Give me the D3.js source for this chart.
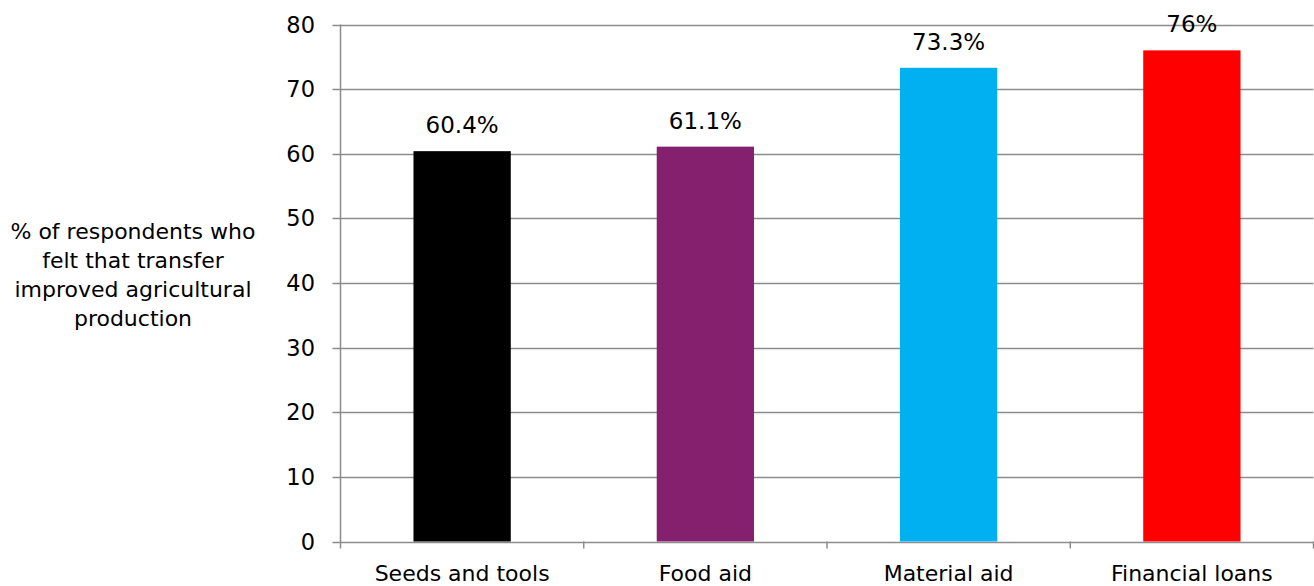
<!DOCTYPE html>
<html><head><meta charset="utf-8">
<script src="https://cdn.jsdelivr.net/npm/d3@7"></script>
<style>body{margin:0;background:#fff}svg{display:block}text{font-family:"DejaVu Sans",Verdana,sans-serif;fill:#000}</style>
</head><body><svg id="c" width="1314" height="586"></svg>
<script>
const categories = ["Seeds and tools","Food aid","Material aid","Financial loans"];
const values = [60.4, 61.1, 73.3, 76];
const valueLabels = ["60.4%","61.1%","73.3%","76%"];
const colors = ["#000000","#85206f","#00b0f0","#ff0000"];
const yTicks = [0,10,20,30,40,50,60,70,80];
const yTitle = ["% of respondents who","felt that transfer","improved agricultural","production"];

const svg = d3.select("#c");
const pL = 340.5, pR = 1313.5, pT = 24.5, pB = 541.5;
const x = d3.scaleBand().domain(categories).range([pL, pR]).paddingInner(0.6).paddingOuter(0.3);
const xb = d3.scaleLinear().domain([0, categories.length]).range([pL, pR]);
const y = d3.scaleLinear().domain([0, 80]).range([pB, pT]);

// gridlines
svg.append("g").selectAll("line").data(yTicks).join("line")
  .attr("x1", pL - 8).attr("x2", pR).attr("y1", d => Math.round(y(d)) + 0.5).attr("y2", d => Math.round(y(d)) + 0.5)
  .attr("stroke", "#8c8c8c").attr("stroke-width", 1.5);
// y axis line
svg.append("line").attr("x1", pL).attr("x2", pL).attr("y1", pT).attr("y2", pB + 7)
  .attr("stroke", "#8c8c8c").attr("stroke-width", 1.5);
// x ticks
svg.append("g").selectAll("line").data(d3.range(1, categories.length + 1)).join("line")
  .attr("x1", d => xb(d)).attr("x2", d => xb(d)).attr("y1", pB).attr("y2", pB + 7)
  .attr("stroke", "#8c8c8c").attr("stroke-width", 1.5);
// y tick labels
svg.append("g").selectAll("text").data(yTicks).join("text")
  .attr("x", 315).attr("y", d => y(d)).attr("dy", "0.36em").attr("text-anchor", "end")
  .attr("font-size", 22.5).text(d => d);
// bars
svg.append("g").selectAll("rect").data(values).join("rect")
  .attr("x", (d, i) => x(categories[i])).attr("width", x.bandwidth())
  .attr("y", d => y(d)).attr("height", d => y(0) - y(d))
  .attr("fill", (d, i) => colors[i]);
// value labels
svg.append("g").selectAll("text").data(values).join("text")
  .attr("x", (d, i) => x(categories[i]) + x.bandwidth() / 2).attr("y", d => y(d) - 18)
  .attr("text-anchor", "middle").attr("font-size", 23).text((d, i) => valueLabels[i]);
// category labels
svg.append("g").selectAll("text").data(categories).join("text")
  .attr("x", d => x(d) + x.bandwidth() / 2).attr("y", 581)
  .attr("text-anchor", "middle").attr("font-size", 22).text(d => d);
// y title
svg.append("g").selectAll("text").data(yTitle).join("text")
  .attr("x", 133).attr("y", (d, i) => 239 + i * 29)
  .attr("text-anchor", "middle").attr("font-size", 22).text(d => d);
</script></body></html>
